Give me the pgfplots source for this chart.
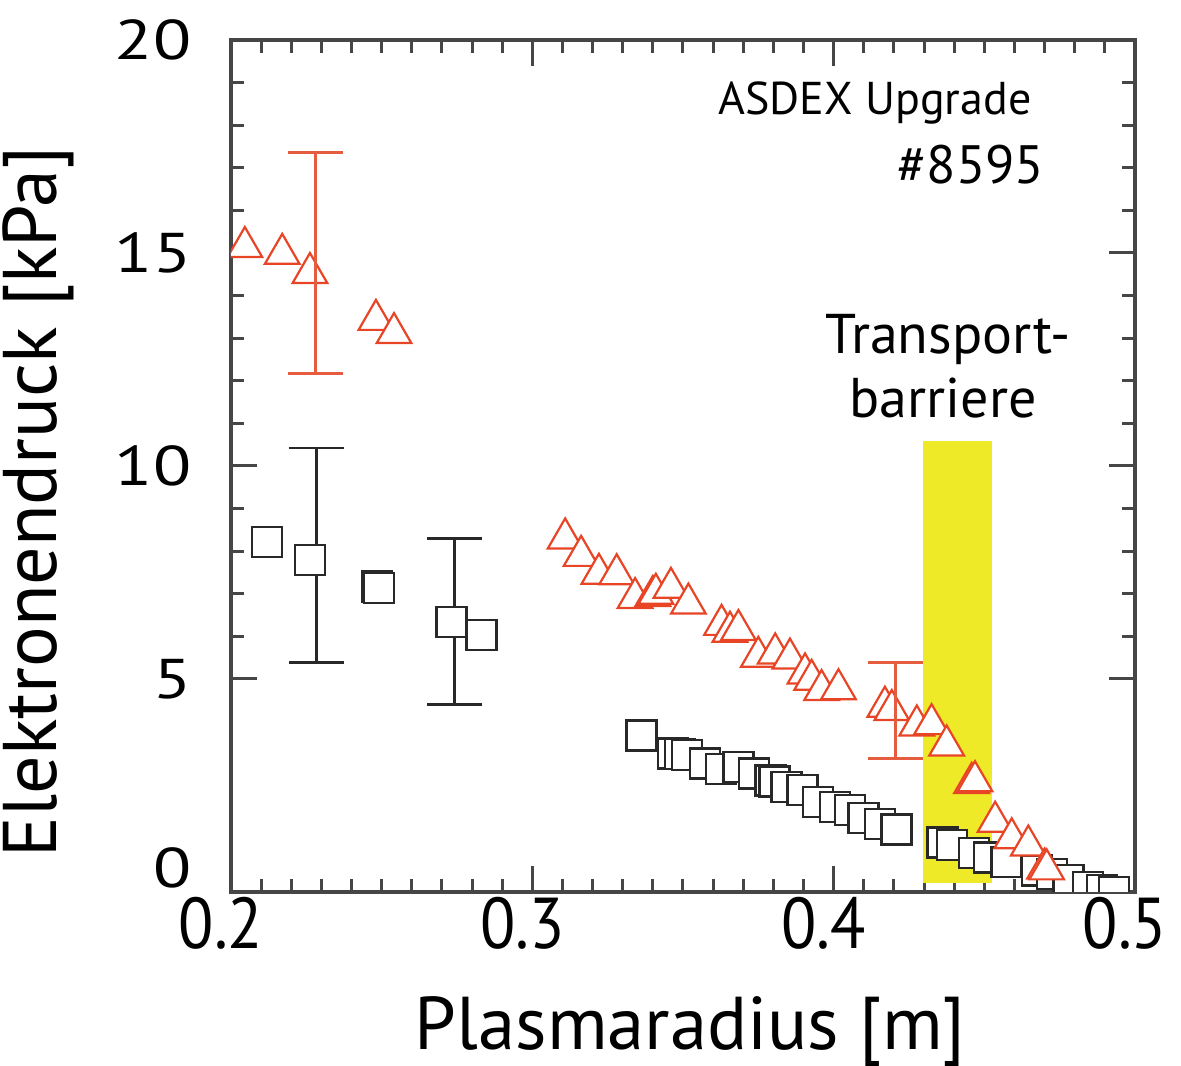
\documentclass[border=0pt]{standalone}
\usepackage{fontspec}
\setmainfont{PT Sans}
\newfontfamily\ywide[FakeStretch=1.25]{PT Sans}
\newfontfamily\xnarrow[FakeStretch=0.9]{PT Sans}
\usepackage{pgfplots}
\pgfplotsset{compat=1.18}
\usepackage{pgfplotstable}
\definecolor{trired}{RGB}{232,68,38}
\definecolor{barred}{RGB}{230,92,62}
\definecolor{sqgray}{RGB}{40,40,40}
\definecolor{axgray}{RGB}{70,70,70}
\definecolor{bandyellow}{RGB}{238,234,40}

% triangles: electron pressure, shot #8595 (red)
\pgfplotstableread{
x y
0.2046 15.14
0.2170 14.98
0.2262 14.53
0.2481 13.43
0.2541 13.12
0.3109 8.30
0.3162 7.89
0.3221 7.47
0.3280 7.46
0.3341 6.90
0.3400 6.95
0.3410 7.00
0.3460 7.14
0.3518 6.77
0.3628 6.27
0.3656 6.11
0.3684 6.15
0.3750 5.52
0.3806 5.60
0.3855 5.48
0.3905 5.13
0.3927 4.98
0.3960 4.74
0.4016 4.76
0.4170 4.35
0.4193 4.27
0.4276 3.91
0.4325 3.94
0.4375 3.44
0.4458 2.56
0.4469 2.60
0.4536 1.65
0.4591 1.26
0.4646 1.09
0.4700 0.55
0.4707 0.53
0.4834 -0.05
}\tritab

% squares (black)
\pgfplotstableread{
x y
0.2120 8.21
0.2262 7.79
0.2484 7.17
0.2491 7.13
0.2732 6.34
0.2831 6.03
0.3362 3.67
0.3467 3.25
0.3490 3.24
0.3513 3.22
0.3573 3.02
0.3627 2.88
0.3684 2.94
0.3735 2.78
0.3790 2.62
0.3804 2.59
0.3844 2.47
0.3896 2.39
0.3949 2.11
0.4005 2.00
0.4054 1.92
0.4099 1.73
0.4154 1.59
0.4209 1.47
0.4361 1.16
0.4392 1.10
0.4466 0.91
0.4516 0.81
0.4574 0.70
0.4674 0.50
0.4724 0.42
0.4779 0.28
0.4844 0.12
0.4890 0.05
0.4930 0.00
}\sqtab

\begin{document}
\begin{tikzpicture}
\path[use as bounding box] (-57.75pt,-43.5pt) rectangle (237.5pt,223pt);
\begin{axis}[
  at={(0,0)}, anchor=south west,
  scale only axis, width=226pt, height=213pt,
  xmin=0.2, xmax=0.5, ymin=0, ymax=20,
  xtick={0.2,0.3,0.4,0.5},
  xticklabels={0.2,0.3,0.4,0.5},
  ytick={5,10,15,20},
  extra y ticks={0},
  extra y tick style={yticklabel style={yshift=6pt}},
  minor x tick num=9, minor y tick num=4,
  major tick length=6.5pt, minor tick length=3.2pt,
  tick style={axgray, line width=0.75pt},
  axis line style={axgray, line width=0.85pt},
  /pgf/number format/assume math mode=true,
  xticklabel style={font=\xnarrow\fontsize{18}{20}\selectfont, inner sep=0pt, xshift=-2.5pt, yshift=-1pt},
  yticklabel style={font=\ywide\fontsize{14}{16}\selectfont, inner sep=0pt, xshift=-9.75pt},
  xlabel={Plasmaradius [m]},
  ylabel={Elektronendruck [kPa]},
  every axis x label/.style={at={(axis description cs:0.508,-0.1854)}, anchor=base,
    font=\fontsize{18.7}{21}\selectfont},
  every axis y label/.style={at={(axis description cs:-0.1925,0.458)}, anchor=base, rotate=90,
    font=\fontsize{19}{21}\selectfont},
  clip marker paths=true,
]
% transport barrier band
\addplot[fill=bandyellow, draw=none] coordinates
  {(0.4296,0.21) (0.4525,0.21) (0.4525,10.59) (0.4296,10.59)} -- cycle;

% black error bars (below squares)
\addplot[draw=none, mark=none, forget plot,
  error bars/.cd, y dir=both, y explicit,
  error mark=-, error mark options={draw=sqgray, rotate=90, line width=0.7pt, mark size=6.9pt},
  error bar style={draw=sqgray, line width=0.7pt}]
  coordinates {(0.2284,7.90) +- (0,2.52) (0.2743,6.355) +- (0,1.945)};

\addplot[only marks, mark=square*, mark size=3.75pt,
  mark options={draw=sqgray, fill=white, line width=0.6pt}]
  table[x=x,y=y] {\sqtab};

\addplot[only marks, mark=triangle*, mark size=5pt,
  mark options={draw=trired, fill=white, line width=0.55pt}]
  table[x=x,y=y] {\tritab};

% red error bars (above triangles)
\addplot[draw=none, mark=none, forget plot,
  error bars/.cd, y dir=both, y explicit,
  error mark=-, error mark options={draw=barred, rotate=90, line width=0.7pt, mark size=6.9pt},
  error bar style={draw=barred, line width=0.7pt}]
  coordinates {(0.2281,14.765) +- (0,2.585) (0.4204,4.26) +- (0,1.12)};

\node[anchor=base east, font=\fontsize{11.5}{13}\selectfont, inner sep=0pt]
  at (axis cs:0.4659,18.24) {ASDEX Upgrade};
\node[anchor=base east, font=\fontsize{13.5}{15}\selectfont, inner sep=0pt]
  at (axis cs:0.4702,16.64) {\#8595};
\node[anchor=base, font=\fontsize{14}{16}\selectfont, inner sep=0pt]
  at (axis cs:0.4380,12.65) {Transport-};
\node[anchor=base, font=\fontsize{14}{16}\selectfont, inner sep=0pt]
  at (axis cs:0.4363,11.13) {barriere};
\end{axis}
\end{tikzpicture}
\end{document}
